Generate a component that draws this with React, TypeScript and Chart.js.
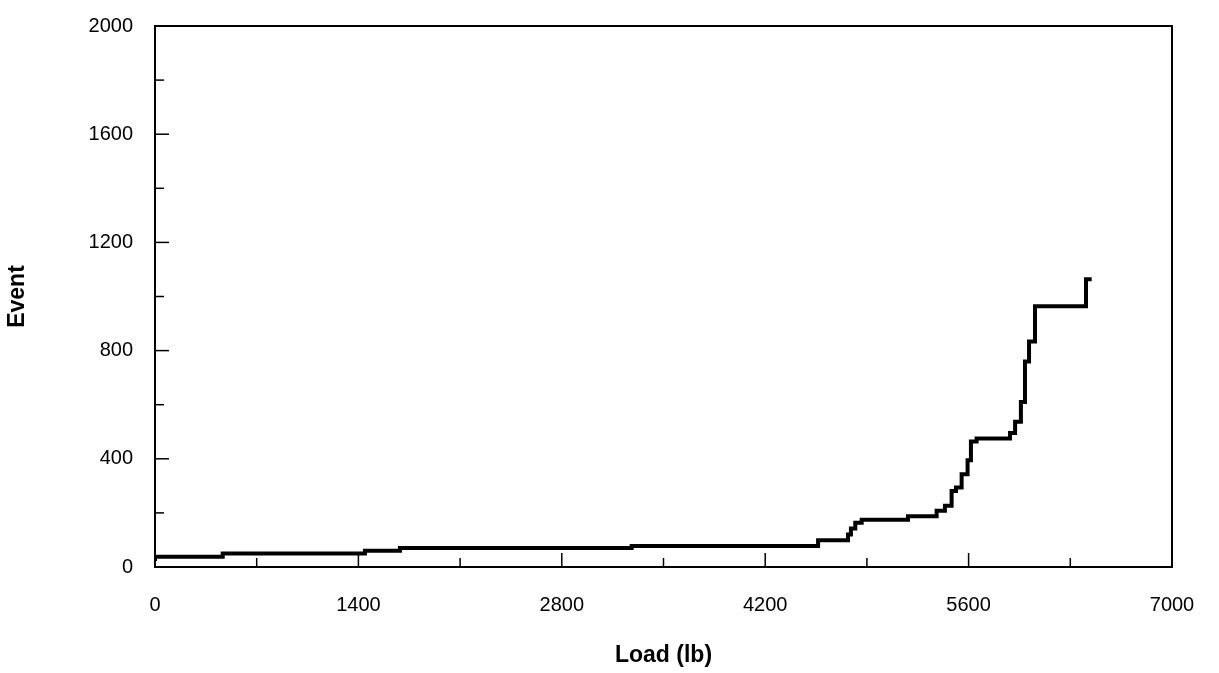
import React, { useEffect, useRef } from "react";
import { Chart, registerables } from "chart.js";
Chart.register(...registerables);

const loads = [0, 466, 1445, 1686, 3281, 4564, 4770, 4790, 4820, 4864, 5183, 5380, 5437, 5483, 5513, 5552, 5593, 5616, 5655, 5885, 5920, 5960, 5988, 6016, 6057, 6408, 6447];
const events = [22, 38, 50, 60, 70, 78, 99, 120, 142, 164, 175, 188, 208, 226, 281, 294, 343, 395, 464, 475, 495, 537, 610, 760, 834, 964, 1064];
const xTicks = [0, 1400, 2800, 4200, 5600, 7000];
const yTicks = [0, 400, 800, 1200, 1600, 2000];

const inwardTicks = {
  id: "inwardTicks",
  afterDraw(chart: any) {
    const { ctx, chartArea: a, scales } = chart;
    ctx.save();
    ctx.strokeStyle = "#000";
    ctx.lineWidth = 2;
    ctx.strokeRect(a.left, a.top, a.right - a.left, a.bottom - a.top);
    ctx.lineWidth = 1.5;
    for (let v = 0; v <= 7000; v += 700) {
      const x = scales.x.getPixelForValue(v);
      const len = v % 1400 === 0 ? 14 : 9;
      ctx.beginPath(); ctx.moveTo(x, a.bottom); ctx.lineTo(x, a.bottom - len); ctx.stroke();
    }
    for (let v = 0; v <= 2000; v += 200) {
      const y = scales.y.getPixelForValue(v);
      const len = v % 400 === 0 ? 14 : 9;
      ctx.beginPath(); ctx.moveTo(a.left, y); ctx.lineTo(a.left + len, y); ctx.stroke();
    }
    ctx.restore();
  },
};

export default function App() {
  const ref = useRef<HTMLCanvasElement>(null);
  useEffect(() => {
    const font = "'Liberation Sans', Arial, sans-serif";
    const chart = new Chart(ref.current!, {
      type: "line",
      data: {
        datasets: [{
          data: loads.map((x, i) => ({ x, y: events[i] })),
          stepped: "after",
          borderColor: "#000",
          borderWidth: 4,
          pointRadius: 0,
          fill: false,
        }],
      },
      options: {
        animation: false,
        responsive: false,
        layout: { padding: { top: 4, right: 47, left: 0, bottom: 0 } },
        plugins: { legend: { display: false }, tooltip: { enabled: false } },
        scales: {
          x: {
            type: "linear", min: 0, max: 7000,
            afterBuildTicks: (s: any) => { s.ticks = xTicks.map((v) => ({ value: v })); },
            afterFit: (s: any) => { s.height = 106; },
            grid: { display: false },
            border: { display: false },
            ticks: { color: "#000", font: { family: font, size: 20 }, padding: 18, callback: (v: any) => String(v) },
            title: { display: true, text: "Load (lb)", color: "#000", font: { family: font, size: 23, weight: "bold" }, padding: { top: 6 } },
          },
          y: {
            type: "linear", min: 0, max: 2000,
            afterBuildTicks: (s: any) => { s.ticks = yTicks.map((v) => ({ value: v })); },
            afterFit: (s: any) => { s.width = 155; },
            grid: { display: false },
            border: { display: false },
            ticks: { color: "#000", font: { family: font, size: 20 }, padding: 14, callback: (v: any) => String(v) },
            title: { display: true, text: "Event", color: "#000", font: { family: font, size: 23, weight: "bold" }, padding: { bottom: 10 } },
          },
        },
      },
      plugins: [inwardTicks],
    } as any);
    return () => chart.destroy();
  }, []);
  return (
    <div style={{ position: "absolute", left: 0, top: 0, background: "#fff" }}>
      <canvas ref={ref} width={1219} height={673} style={{ display: "block" }} />
    </div>
  );
}
